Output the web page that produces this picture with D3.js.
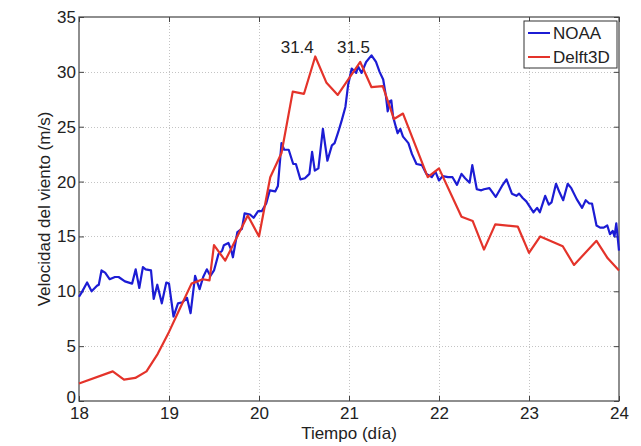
<!DOCTYPE html>
<html>
<head>
<meta charset="utf-8">
<script src="https://cdn.jsdelivr.net/npm/d3@7"></script>
<style>
  html, body { margin: 0; padding: 0; background: #fff; }
  svg text { font-family: 'Liberation Sans', Arial, sans-serif; fill: #222; }
</style>
</head>
<body>
<div data-js-graph></div>
<script>
// NOAA buoy wind speed (time in days, speed in m/s)
const noaaTime = [
  18.00, 18.03, 18.09, 18.14, 18.20, 18.22, 18.25, 18.29, 18.34, 18.40,
  18.44, 18.51, 18.59, 18.63, 18.67, 18.71, 18.74, 18.80, 18.83, 18.87,
  18.92, 18.97, 19.00, 19.05, 19.10, 19.15, 19.20, 19.24, 19.29, 19.34,
  19.38, 19.42, 19.46, 19.50, 19.55, 19.59, 19.61, 19.66, 19.69, 19.71,
  19.76, 19.81, 19.84, 19.90, 19.94, 19.99, 20.03, 20.08, 20.12, 20.18,
  20.21, 20.25, 20.28, 20.33, 20.38, 20.41, 20.46, 20.51, 20.56, 20.59,
  20.62, 20.66, 20.71, 20.76, 20.81, 20.84, 20.88, 20.92, 20.96, 20.99,
  21.03, 21.08, 21.10, 21.14, 21.19, 21.25, 21.30, 21.34, 21.38, 21.41,
  21.43, 21.45, 21.47, 21.49, 21.54, 21.57, 21.60, 21.66, 21.70, 21.75,
  21.81, 21.86, 21.92, 21.96, 22.00, 22.04, 22.10, 22.15, 22.20, 22.25,
  22.29, 22.34, 22.37, 22.42, 22.47, 22.50, 22.56, 22.63, 22.70, 22.75,
  22.81, 22.86, 22.89, 22.93, 22.97, 23.05, 23.09, 23.12, 23.18, 23.22,
  23.25, 23.30, 23.34, 23.38, 23.43, 23.47, 23.53, 23.59, 23.63, 23.67,
  23.70, 23.75, 23.79, 23.83, 23.87, 23.90, 23.93, 23.95, 23.97, 24.00,
];
const noaaSpeed = [
  9.5, 9.9, 10.8, 10.0, 10.5, 10.6, 11.9, 11.7, 11.1, 11.3,
  11.3, 10.9, 10.7, 12.0, 10.3, 12.2, 12.0, 11.9, 9.3, 10.6,
  8.9, 10.8, 10.7, 7.7, 8.9, 9.0, 9.4, 8.0, 11.4, 10.2,
  11.3, 12.0, 11.4, 11.9, 13.4, 13.7, 14.2, 14.4, 13.8, 13.1,
  15.4, 15.7, 17.1, 17.0, 16.7, 17.3, 17.3, 18.0, 19.2, 19.1,
  19.6, 23.5, 22.9, 22.9, 21.6, 21.6, 20.2, 20.3, 20.7, 22.7,
  21.0, 21.2, 24.8, 21.9, 23.3, 23.5, 24.5, 25.6, 26.8, 28.8,
  30.3, 29.9, 30.5, 29.9, 30.9, 31.5, 30.9, 30.0, 29.3, 27.8,
  26.4, 27.3, 27.4, 25.9, 24.4, 24.8, 24.1, 23.5, 22.5, 21.6,
  21.5, 20.7, 20.4, 20.9, 20.1, 20.5, 20.4, 20.4, 19.7, 20.7,
  20.3, 19.9, 21.5, 19.3, 19.2, 19.3, 19.4, 18.6, 19.6, 20.2,
  18.9, 18.7, 18.9, 18.5, 18.2, 17.2, 17.6, 17.2, 18.7, 17.9,
  18.1, 19.8, 19.0, 18.3, 19.8, 19.4, 18.4, 17.6, 18.3, 18.0,
  18.0, 16.0, 15.8, 15.8, 16.0, 15.2, 15.5, 15.0, 16.2, 13.7,
];

// Delft3D model wind speed
const delftTime = [
  18.0, 18.375, 18.5, 18.625, 18.75, 18.875, 19.0, 19.125, 19.25, 19.375,
  19.45, 19.5, 19.625, 19.875, 20.0, 20.125, 20.25, 20.375, 20.5, 20.625,
  20.75, 20.875, 21.0, 21.125, 21.25, 21.375, 21.5, 21.6, 21.875, 22.0,
  22.25, 22.375, 22.5, 22.625, 22.875, 23.0, 23.125, 23.375, 23.5, 23.75,
  23.875, 24.0,
];
const delftSpeed = [
  1.6, 2.7, 1.95, 2.1, 2.7, 4.3, 6.3, 8.5, 10.7, 11.1,
  11.0, 14.2, 12.8, 16.9, 15.0, 20.4, 22.6, 28.2, 28.0, 31.4,
  29.0, 27.9, 29.4, 30.9, 28.6, 28.7, 25.7, 26.2, 20.4, 21.2,
  16.8, 16.4, 13.8, 16.1, 15.9, 13.5, 15.0, 14.1, 12.4, 14.6,
  13.0, 11.9,
];

const xTicks = [18, 19, 20, 21, 22, 23, 24];
const yTicks = [0, 5, 10, 15, 20, 25, 30, 35];
const seriesNames = ['NOAA', 'Delft3D'];
const seriesColors = ['#1c1cd4', '#e4332a'];
// peaks labelled above the curves: [time, speed]
const peakNotes = [[20.625, 31.4], [21.25, 31.5]];

const SETTING = {
  width: 641,
  height: 446,
  left: 79,
  right: 619,
  top: 17,
  bottom: 401,
  fontSize: 17,
};

const svg = d3.select('[data-js-graph]').append('svg')
  .attr('width', SETTING.width)
  .attr('height', SETTING.height);

const x = d3.scaleLinear().domain([18, 24]).range([SETTING.left, SETTING.right]);
const y = d3.scaleLinear().domain([0, 35]).range([SETTING.bottom, SETTING.top]);

// grid
const grid = svg.append('g')
  .attr('stroke', '#c4c4c4')
  .attr('stroke-width', 1)
  .attr('stroke-dasharray', '1,2');
grid.selectAll('line.gx')
  .data(xTicks.slice(1, -1))
  .enter()
  .append('line')
  .attr('x1', (d) => Math.round(x(d)) + 0.5)
  .attr('x2', (d) => Math.round(x(d)) + 0.5)
  .attr('y1', SETTING.top)
  .attr('y2', SETTING.bottom);
grid.selectAll('line.gy')
  .data(yTicks.slice(1, -1))
  .enter()
  .append('line')
  .attr('x1', SETTING.left)
  .attr('x2', SETTING.right)
  .attr('y1', (d) => Math.round(y(d)) + 0.5)
  .attr('y2', (d) => Math.round(y(d)) + 0.5);

// axes, matlab style: ticks inside, mirrored on top/right
const axisStyle = (g) => {
  g.select('.domain').remove();
  g.selectAll('line').attr('stroke', '#444');
  g.selectAll('text')
    .style('font-size', `${SETTING.fontSize}px`)
    .attr('fill', '#222');
};

svg.append('g')
  .attr('transform', `translate(0,${SETTING.bottom})`)
  .call(d3.axisBottom(x).tickValues(xTicks).tickSizeInner(-5).tickPadding(6).tickFormat(d3.format('d')))
  .call(axisStyle);
svg.append('g')
  .attr('transform', `translate(0,${SETTING.top})`)
  .call(d3.axisTop(x).tickValues(xTicks).tickSizeInner(-5).tickFormat(''))
  .call(axisStyle);
svg.append('g')
  .attr('transform', `translate(${SETTING.left},0)`)
  .call(d3.axisLeft(y).tickValues(yTicks).tickSizeInner(-5).tickPadding(3).tickFormat(d3.format('d')))
  .call(axisStyle)
  // lift the "0" a little so it sits just above the "18"
  .call((g) => g.selectAll('.tick text').filter((d) => d === 0).attr('dy', '0.1em'));
svg.append('g')
  .attr('transform', `translate(${SETTING.right},0)`)
  .call(d3.axisRight(y).tickValues(yTicks).tickSizeInner(-5).tickFormat(''))
  .call(axisStyle);

svg.append('rect')
  .attr('x', SETTING.left)
  .attr('y', SETTING.top)
  .attr('width', SETTING.right - SETTING.left)
  .attr('height', SETTING.bottom - SETTING.top)
  .attr('fill', 'none')
  .attr('stroke', '#444')
  .attr('stroke-width', 1.2);

// series
const series = [
  noaaTime.map((t, i) => [t, noaaSpeed[i]]),
  delftTime.map((t, i) => [t, delftSpeed[i]]),
];
const line = d3.line()
  .x((d) => x(d[0]))
  .y((d) => y(d[1]));

svg.append('g')
  .selectAll('path')
  .data(series)
  .enter()
  .append('path')
  .attr('d', line)
  .attr('fill', 'none')
  .attr('stroke', (d, i) => seriesColors[i])
  .attr('stroke-width', 2.2)
  .attr('stroke-linejoin', 'round');

// peak labels
svg.append('g')
  .selectAll('text')
  .data(peakNotes)
  .enter()
  .append('text')
  .attr('x', (d) => x(d[0]) - 18)
  .attr('y', SETTING.top + 36)
  .attr('text-anchor', 'middle')
  .style('font-size', `${SETTING.fontSize}px`)
  .text((d) => d[1].toFixed(1));

// axis titles
svg.append('text')
  .attr('x', (SETTING.left + SETTING.right) / 2)
  .attr('y', 439)
  .attr('text-anchor', 'middle')
  .style('font-size', `${SETTING.fontSize}px`)
  .text('Tiempo (día)');

svg.append('text')
  .attr('transform', `translate(50,${(SETTING.top + SETTING.bottom) / 2}) rotate(-90)`)
  .attr('text-anchor', 'middle')
  .style('font-size', `${SETTING.fontSize}px`)
  .text('Velocidad del viento (m/s)');

// legend
const legend = svg.append('g')
  .attr('transform', `translate(${SETTING.right - 95},${SETTING.top + 4})`);
legend.append('rect')
  .attr('width', 93)
  .attr('height', 47)
  .attr('fill', '#fff')
  .attr('stroke', '#333')
  .attr('stroke-width', 1);
const item = legend.selectAll('g')
  .data(seriesNames)
  .enter()
  .append('g')
  .attr('transform', (d, i) => `translate(0,${12 + i * 24})`);
item.append('line')
  .attr('x1', 4)
  .attr('x2', 26)
  .attr('stroke', (d, i) => seriesColors[i])
  .attr('stroke-width', 2);
item.append('text')
  .attr('x', 29)
  .attr('y', 6)
  .style('font-size', `${SETTING.fontSize}px`)
  .text((d) => d);
</script>
</body>
</html>
